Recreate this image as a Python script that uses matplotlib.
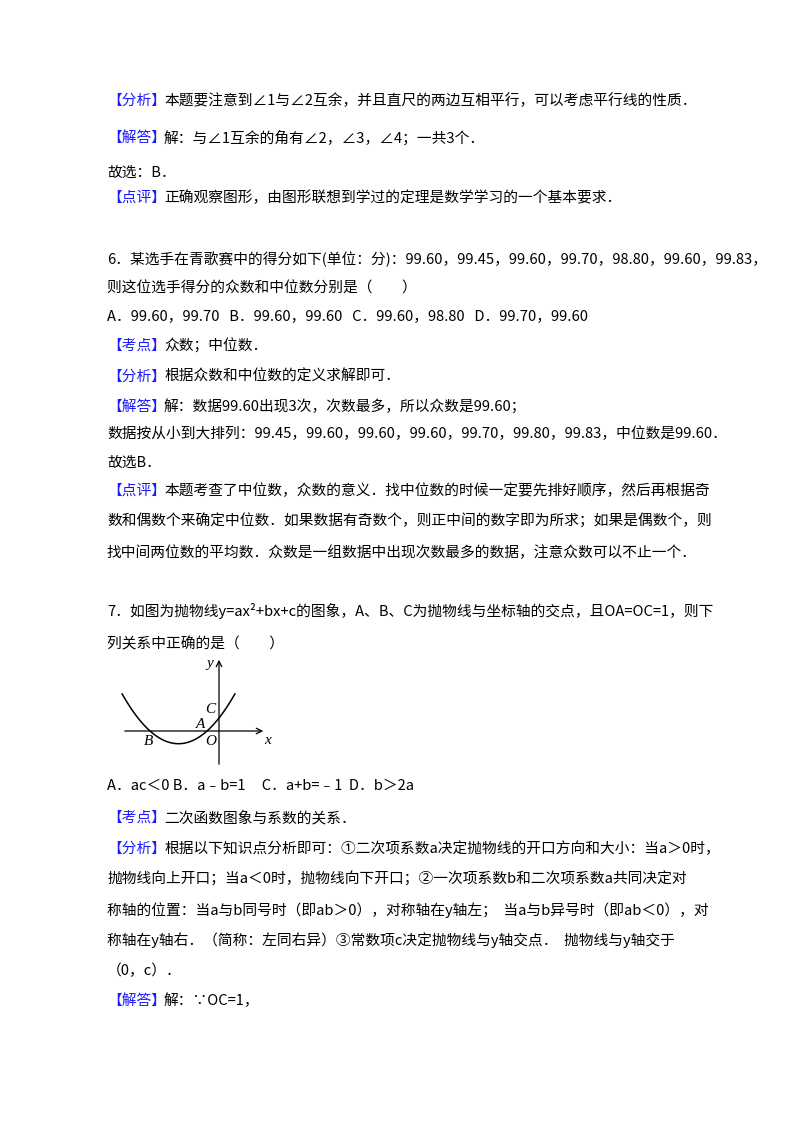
import numpy as np
import matplotlib
matplotlib.use('Agg')
import matplotlib.pyplot as plt

plt.rcParams['font.family'] = ['Noto Sans CJK SC', 'DejaVu Sans']

W, H = 800, 1132
BLUE = '#1a1aff'
FS = 10.6

# (y pixel, blue label, text)
lines = [
    (101, "【分析】", "本题要注意到∠1与∠2互余，并且直尺的两边互相平行，可以考虑平行线的性质．"),
    (138, "【解答】", "解：与∠1互余的角有∠2，∠3，∠4；一共3个．"),
    (173, "", "故选：B．"),
    (198, "【点评】", "正确观察图形，由图形联想到学过的定理是数学学习的一个基本要求．"),
    (259, "", "6．某选手在青歌赛中的得分如下(单位：分)：99.60，99.45，99.60，99.70，98.80，99.60，99.83，"),
    (289, "", "则这位选手得分的众数和中位数分别是（　　）"),
    (316, "", "A．99.60，99.70   B．99.60，99.60   C．99.60，98.80   D．99.70，99.60"),
    (346, "【考点】", "众数；中位数．"),
    (377, "【分析】", "根据众数和中位数的定义求解即可．"),
    (407, "【解答】", "解：数据99.60出现3次，次数最多，所以众数是99.60；"),
    (434, "", "数据按从小到大排列：99.45，99.60，99.60，99.60，99.70，99.80，99.83，中位数是99.60．"),
    (463, "", "故选B．"),
    (491, "【点评】", "本题考查了中位数，众数的意义．找中位数的时候一定要先排好顺序，然后再根据奇"),
    (521, "", "数和偶数个来确定中位数．如果数据有奇数个，则正中间的数字即为所求；如果是偶数个，则"),
    (553, "", "找中间两位数的平均数．众数是一组数据中出现次数最多的数据，注意众数可以不止一个．"),
    (611, "", "7．如图为抛物线y=ax²+bx+c的图象，A、B、C为抛物线与坐标轴的交点，且OA=OC=1，则下"),
    (644, "", "列关系中正确的是（　　）"),
    (786, "", "A．ac＜0 B．a﹣b=1     C．a+b=﹣1  D．b＞2a"),
    (818, "【考点】", "二次函数图象与系数的关系．"),
    (849, "【分析】", "根据以下知识点分析即可：①二次项系数a决定抛物线的开口方向和大小：当a＞0时，"),
    (879, "", "抛物线向上开口；当a＜0时，抛物线向下开口；②一次项系数b和二次项系数a共同决定对"),
    (910, "", "称轴的位置：当a与b同号时（即ab＞0），对称轴在y轴左；  当a与b异号时（即ab＜0），对"),
    (940, "", "称轴在y轴右．（简称：左同右异）③常数项c决定抛物线与y轴交点．  抛物线与y轴交于"),
    (971, "", "（0，c）．"),
    (1001, "【解答】", "解：∵OC=1，"),
]

# parabola y = a(x - r1)(x - r2), roots at B and A
a_coef = 0.47
root_B, root_A = -2.3, -0.4
x_left, x_right = -3.23, 0.53

fig = plt.figure(figsize=(W / 100, H / 100), dpi=100)

for y, label, text in lines:
    x0 = 107
    if label:
        fig.text(x0 / W, 1 - y / H, label, color=BLUE, fontsize=FS, va='center')
        x0 = 164
    fig.text(x0 / W, 1 - y / H, text, color='black', fontsize=FS, va='center')

# small figure: 30 px per unit, origin at pixel (219, 731)
px0, px1, py0, py1 = 118, 272, 652, 768
ax = fig.add_axes([px0 / W, 1 - py1 / H, (px1 - px0) / W, (py1 - py0) / H])
ax.set_xlim((px0 - 219) / 30, (px1 - 219) / 30)
ax.set_ylim((731 - py1) / 30, (731 - py0) / 30)
ax.axis('off')

xs = np.linspace(x_left, x_right, 200)
ax.plot(xs, a_coef * (xs - root_B) * (xs - root_A), color='black', lw=1.1)
arrow = dict(arrowstyle='->', color='black', lw=0.9)
ax.annotate('', xy=((266 - 219) / 30, 0), xytext=((122 - 219) / 30, 0), arrowprops=arrow)
ax.annotate('', xy=(0, (731 - 657) / 30), xytext=(0, (731 - 767) / 30), arrowprops=arrow)

lab = dict(family='Liberation Serif', style='italic', fontsize=11, ha='center', va='center')
ax.text((268 - 219) / 30, -0.32, 'x', **lab)
ax.text(-0.3, (731 - 664) / 30, 'y', **lab)
ax.text(root_B - 0.05, -0.35, 'B', **lab)
ax.text(-0.27, -0.35, 'O', **lab)
ax.text(-0.6, 0.22, 'A', **lab)
ax.text(-0.3, 0.72, 'C', **lab)

fig.savefig('out.png', dpi=100, facecolor='white')
